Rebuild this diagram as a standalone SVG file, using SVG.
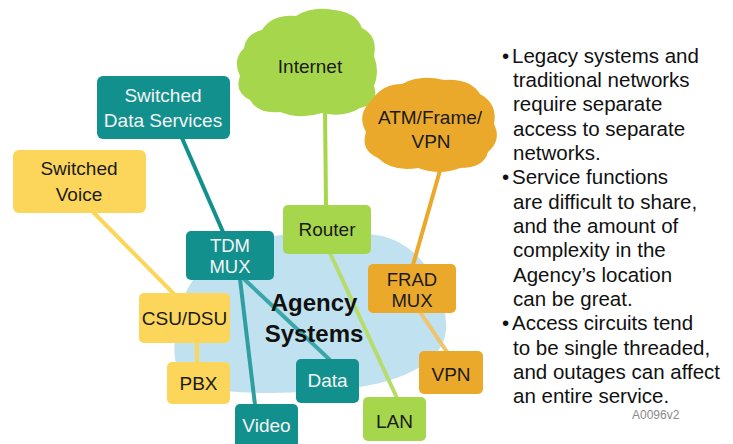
<svg xmlns="http://www.w3.org/2000/svg" width="733" height="444" viewBox="0 0 733 444">
<style>
text{font-family:"Liberation Sans",Arial,sans-serif;}
.lbl{font-size:19px;text-anchor:middle;fill:#1a1a1a;}
.wl{font-size:19px;text-anchor:middle;fill:#f4f4f4;}
.sm{font-size:18.5px;}
.teal{fill:#12908e;}
.yel{fill:#fcd65a;}
.grn{fill:#a6d64c;}
.org{fill:#eba92c;}
.ln{stroke-width:4;fill:none;stroke-linecap:butt;}
.bul{font-size:20.5px;fill:#111;}
</style>
<rect width="733" height="444" fill="#ffffff"/>
<g id="agency-area">
<path d="M 230,250 C 265,232 330,226 382,236 C 425,246 448,295 446,330 C 444,362 402,382 352,388 C 300,394 245,395 200,388 C 168,382 172,340 180,310 C 186,282 205,262 230,250 Z" fill="#c0e1ef"/>
</g>
<g id="connectors">
<line class="ln" x1="325" y1="108" x2="326" y2="206" stroke="#a6d64c"/>
<line class="ln" x1="443" y1="160" x2="413" y2="265" stroke="#eba92c"/>
<line class="ln" x1="182" y1="138" x2="223" y2="232" stroke="#12908e"/>
<line class="ln" x1="93" y1="212" x2="174" y2="294" stroke="#fcd65a"/>
<line class="ln" x1="197" y1="342" x2="197" y2="363" stroke="#fcd65a"/>
<line class="ln" x1="240" y1="279" x2="255" y2="405" stroke="#2e9ea1"/>
<line class="ln" x1="244" y1="279" x2="330" y2="360" stroke="#3ba6a8"/>
<line class="ln" x1="330" y1="253" x2="397" y2="398" stroke="#b6dc6c" stroke-width="3.5"/>
<line class="ln" x1="420" y1="312" x2="447" y2="352" stroke="#f0c46c"/>
</g>
<g id="internet">
<path class="grn" d="M 262,30 Q 272,14 296,16 Q 312,6 334,10 Q 356,12 362,28 Q 378,36 374,56 Q 380,72 374,86 Q 380,104 360,108 Q 344,118 322,113 Q 300,120 280,112 Q 258,114 250,100 Q 234,92 240,76 Q 232,60 244,48 Q 246,34 262,30 Z"/>
<text class="lbl" x="310" y="73">Internet</text>
</g>
<g id="atm-frame-vpn">
<path class="org" d="M 372,100 Q 382,84 402,84 Q 420,74 444,80 Q 470,78 480,94 Q 498,104 494,124 Q 502,140 488,152 Q 484,168 460,168 Q 440,176 418,168 Q 392,172 378,158 Q 360,150 366,132 Q 356,114 372,100 Z"/>
<text class="lbl"><tspan x="430" y="124">ATM/Frame/</tspan><tspan x="431" y="148">VPN</tspan></text>
</g>
<g id="switched-data-services">
<rect class="teal" x="97" y="76" width="133" height="63" rx="6"/>
<text class="wl"><tspan x="163" y="102">Switched</tspan><tspan x="163" y="127">Data Services</tspan></text>
</g>
<g id="switched-voice">
<rect class="yel" x="13" y="150" width="133" height="63" rx="6"/>
<text class="lbl"><tspan x="79" y="175">Switched</tspan><tspan x="79" y="201">Voice</tspan></text>
</g>
<g id="tdm-mux">
<rect class="teal" x="186" y="231" width="88" height="49" rx="5"/>
<text class="wl sm"><tspan x="230" y="252">TDM</tspan><tspan x="230" y="273">MUX</tspan></text>
</g>
<g id="router">
<rect class="grn" x="283" y="205" width="88" height="49" rx="5"/>
<text class="lbl" x="327" y="236">Router</text>
</g>
<g id="frad-mux">
<rect class="org" x="368" y="264" width="88" height="49" rx="5"/>
<text class="lbl sm"><tspan x="412" y="286">FRAD</tspan><tspan x="412" y="307">MUX</tspan></text>
</g>
<g id="csu-dsu">
<rect class="yel" x="139" y="293" width="91" height="50" rx="5"/>
<text class="lbl" x="184.5" y="325">CSU/DSU</text>
</g>
<g id="pbx">
<rect class="yel" x="167" y="362" width="63" height="42" rx="5"/>
<text class="lbl" x="198.5" y="390">PBX</text>
</g>
<g id="video">
<rect class="teal" x="235" y="404" width="63" height="46" rx="5"/>
<text class="wl" x="266.5" y="432">Video</text>
</g>
<g id="data">
<rect class="teal" x="296" y="359" width="63" height="44" rx="5"/>
<text class="wl" x="327.5" y="387">Data</text>
</g>
<g id="lan">
<rect class="grn" x="363" y="397" width="63" height="44" rx="5"/>
<text class="lbl" x="394.5" y="428">LAN</text>
</g>
<g id="vpn">
<rect class="org" x="419" y="351" width="64" height="43" rx="5"/>
<text class="lbl" x="451" y="381">VPN</text>
</g>
<g id="agency-label">
<text font-size="24" font-weight="bold" text-anchor="middle" fill="#111"><tspan x="314" y="311">Agency</tspan><tspan x="314" y="342">Systems</tspan></text>
</g>
<g id="notes">
<text class="bul"><tspan x="502" y="63">•</tspan><tspan x="512" y="63">Legacy systems and</tspan><tspan x="513" y="87">traditional networks</tspan><tspan x="513" y="111">require separate</tspan><tspan x="513" y="136">access to separate</tspan><tspan x="513" y="160">networks.</tspan></text>
<text class="bul"><tspan x="502" y="184">•</tspan><tspan x="512" y="184">Service functions</tspan><tspan x="513" y="209">are difficult to share,</tspan><tspan x="513" y="233">and the amount of</tspan><tspan x="513" y="257">complexity in the</tspan><tspan x="513" y="282">Agency’s location</tspan><tspan x="513" y="306">can be great.</tspan></text>
<text class="bul"><tspan x="502" y="330">•</tspan><tspan x="512" y="330">Access circuits tend</tspan><tspan x="513" y="355">to be single threaded,</tspan><tspan x="513" y="379">and outages can affect</tspan><tspan x="513" y="403">an entire service.</tspan></text>
<text x="632" y="419" font-size="12" fill="#8a8a8a">A0096v2</text>
</g>
</svg>
